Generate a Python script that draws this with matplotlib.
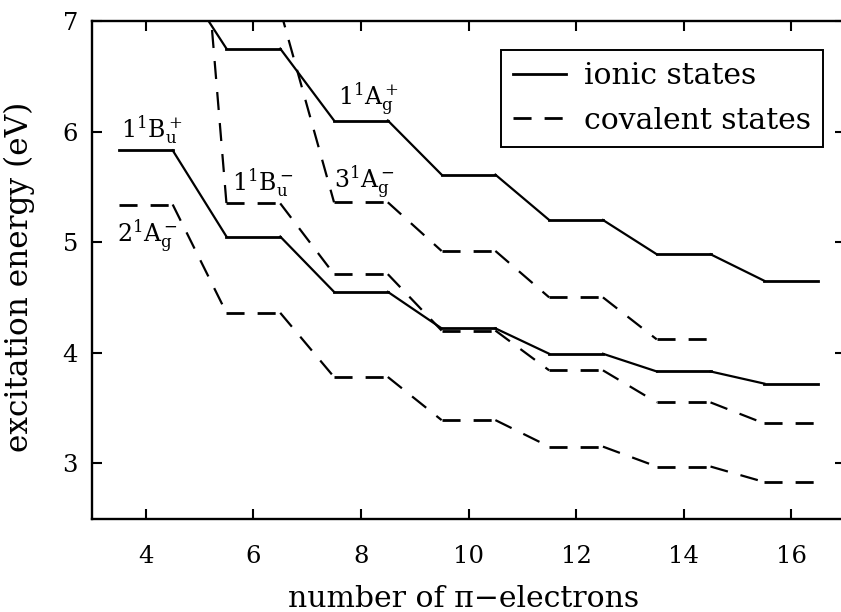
import matplotlib
matplotlib.use('Agg')
import matplotlib.pyplot as plt

# number of pi-electrons (chain length)
n_electrons = [4, 6, 8, 10, 12, 14, 16]

# ionic states (solid)
ionic_1Bu = [5.83, 5.05, 4.55, 4.22, 3.99, 3.83, 3.72]
ionic_1Ag = [7.50, 6.75, 6.10, 5.61, 5.20, 4.89, 4.65]

# covalent states (dashed)
cov_2Ag = [5.34, 4.36, 3.78, 3.39, 3.15, 2.97, 2.83]
cov_1Bu = [11.2, 5.35, 4.71, 4.20, 3.84, 3.55, 3.36]
n_3Ag = [6, 8, 10, 12, 14]
cov_3Ag = [7.10, 5.36, 4.92, 4.50, 4.12]

x_ticks = [4, 6, 8, 10, 12, 14, 16]
y_ticks = [3, 4, 5, 6, 7]

plt.rcParams['font.family'] = 'DejaVu Serif'
plt.rcParams['mathtext.fontset'] = 'dejavuserif'
plt.rcParams['lines.scale_dashes'] = False

DASH = (0, (13, 9.4))


def draw_levels(ax, n, e, ls, label=None):
    # each plateau and connector drawn on its own so the dash pattern restarts
    for i in range(len(n)):
        ax.plot([n[i] - 0.5, n[i] + 0.5], [e[i], e[i]], color='black',
                lw=2.0, linestyle=ls, label=label if i == 0 else None)
        if i + 1 < len(n):
            ax.plot([n[i] + 0.5, n[i + 1] - 0.5], [e[i], e[i + 1]],
                    color='black', lw=1.6, linestyle=ls)


fig = plt.figure(figsize=(8.41, 6.12), dpi=100)
ax = fig.add_axes([92 / 841, 93.5 / 612, 753 / 841, 497.5 / 612])

draw_levels(ax, n_electrons, ionic_1Bu, '-', 'ionic states')
draw_levels(ax, n_electrons, ionic_1Ag, '-')
draw_levels(ax, n_electrons, cov_2Ag, DASH, 'covalent states')
draw_levels(ax, n_electrons, cov_1Bu, DASH)
draw_levels(ax, n_3Ag, cov_3Ag, DASH)

ax.set_xlim(3, 17)
ax.set_ylim(2.5, 7)
ax.set_xticks(x_ticks)
ax.set_yticks(y_ticks)
ax.tick_params(direction='in', length=7.5, width=1.5, top=True, right=True,
               labelsize=17.5)
ax.tick_params(axis='x', pad=19)
ax.tick_params(axis='y', pad=10)
for sp in ax.spines.values():
    sp.set_linewidth(1.7)

ax.set_xlabel('number of π−electrons', fontsize=21.5)
ax.set_ylabel('excitation energy (eV)', fontsize=22.5)
ax.xaxis.set_label_coords(0.494, -0.133)
ax.yaxis.set_label_coords(-0.076, 0.485)

# state labels
ax.text(3.53, 5.95, r'$1^1\mathrm{B}_\mathrm{u}^+$', fontsize=17)
ax.text(3.47, 5.00, r'$2^1\mathrm{A}_\mathrm{g}^-$', fontsize=17)
ax.text(5.60, 5.47, r'$1^1\mathrm{B}_\mathrm{u}^-$', fontsize=17)
ax.text(7.50, 5.49, r'$3^1\mathrm{A}_\mathrm{g}^-$', fontsize=17)
ax.text(7.58, 6.24, r'$1^1\mathrm{A}_\mathrm{g}^+$', fontsize=17)

leg = ax.legend(loc='upper right', bbox_to_anchor=(0.971, 0.941),
                borderaxespad=0, fontsize=21.5, handlelength=1.8,
                handletextpad=0.6, labelspacing=0.55, borderpad=0.4,
                fancybox=False, framealpha=1, edgecolor='black')
leg.get_frame().set_linewidth(1.4)

fig.savefig('out.png', dpi=100)
